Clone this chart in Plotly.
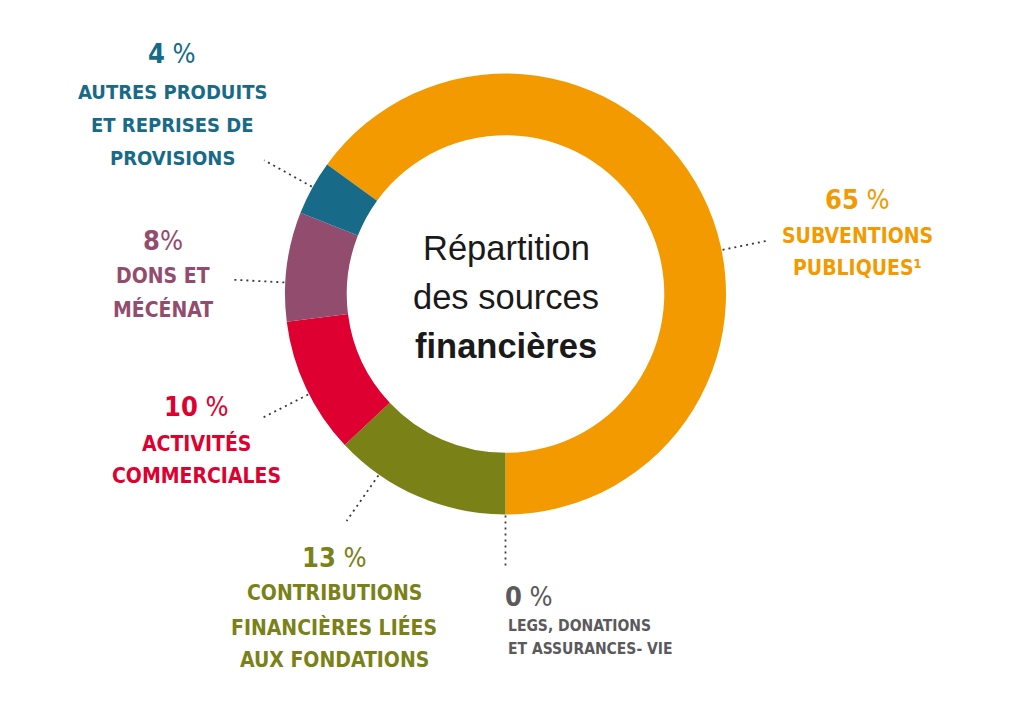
import math
import plotly.graph_objects as go

# ---- data ----
categories = [
    "Subventions publiques",
    "Legs, donations et assurances-vie",
    "Contributions financières liées aux fondations",
    "Activités commerciales",
    "Dons et mécénat",
    "Autres produits et reprises de provisions",
]
values = [65, 0, 13, 10, 8, 4]
colors = ["#F29A00", "#5A5A5C", "#7A8117", "#DE0030", "#924C6E", "#176A88"]

pct_labels = ["65 %", "0 %", "13 %", "10 %", "8%", "4 %"]
label_lines = [
    ["SUBVENTIONS", "PUBLIQUES¹"],
    ["LEGS, DONATIONS", "ET ASSURANCES- VIE"],
    ["CONTRIBUTIONS", "FINANCIÈRES LIÉES", "AUX FONDATIONS"],
    ["ACTIVITÉS", "COMMERCIALES"],
    ["DONS ET", "MÉCÉNAT"],
    ["AUTRES PRODUITS", "ET REPRISES DE", "PROVISIONS"],
]
center_lines = ["Répartition", "des sources", "financières"]

# ---- layout geometry (pixels in the final screenshot) ----
W, H = 1024, 723
OFF = 8  # page body margin
CX, CY, R = 505.5, 294.0, 220.5
HOLE = 0.72

def px(x):
    return (x - OFF) / W

def py(y):
    return 1 - (y - OFF) / H

COND = "DejaVu Sans Condensed, DejaVu Sans, sans-serif"

fig = go.Figure(
    go.Pie(
        labels=categories,
        values=values,
        marker=dict(colors=colors, line=dict(width=0)),
        hole=HOLE,
        sort=False,
        direction="clockwise",
        rotation=-54,
        textinfo="none",
        hoverinfo="label+percent",
        showlegend=False,
        domain=dict(x=[px(CX - R), px(CX + R)], y=[py(CY + R), py(CY - R)]),
    )
)

blocks = [
    dict(x=857, ys=[200, 236, 268], anchor="center", psize=27, lsize=21),
    dict(x=503, ys=[596, 626, 649], anchor="left", psize=27, lsize=15.5, lx=506),
    dict(x=334, ys=[557, 593, 627, 660], anchor="center", psize=27, lsize=21),
    dict(x=196, ys=[406, 443, 476], anchor="center", psize=27, lsize=21),
    dict(x=163, ys=[241, 276, 309], anchor="center", psize=27, lsize=21),
    dict(x=172, ys=[53, 92, 125, 158], anchor="center", psize=27, lsize=20),
]

annotations = []
for i, b in enumerate(blocks):
    num = pct_labels[i].replace("%", "").strip()
    sep = " " if pct_labels[i].endswith(" %") else ""
    pct_text = f"<b>{num}</b>{sep}%"
    annotations.append(dict(
        x=px(b["x"]), y=py(b["ys"][0]), xref="paper", yref="paper",
        text=pct_text, showarrow=False, xanchor=b["anchor"], yanchor="middle",
        font=dict(family=COND, size=b["psize"], color=colors[i]),
    ))
    lx = b.get("lx", b["x"])
    for line, yy in zip(label_lines[i], b["ys"][1:]):
        annotations.append(dict(
            x=px(lx), y=py(yy), xref="paper", yref="paper",
            text=f"<b>{line}</b>", showarrow=False, xanchor=b["anchor"], yanchor="middle",
            font=dict(family=COND, size=b["lsize"], color=colors[i]),
        ))

# center title
center_ys = [248, 297, 346]
for j, (t, yy) in enumerate(zip(center_lines, center_ys)):
    annotations.append(dict(
        x=px(506), y=py(yy), xref="paper", yref="paper",
        text=(f"<b>{t}</b>" if j == 2 else t), showarrow=False,
        xanchor="center", yanchor="middle",
        font=dict(family="Liberation Sans, Arial, sans-serif", size=34.5, color="#1a1a1a"),
    ))

# dotted radial leader lines: angle clockwise from 12 o'clock, from ring edge outward
leader_angles = [78.5, 180, 215, 243, 273, 299]
leader_r1 = [269, 273, 277, 273, 275, 276]
shapes = []
for ang, r1 in zip(leader_angles, leader_r1):
    a = math.radians(ang)
    x0, y0 = CX + (R + 1) * math.sin(a), CY - (R + 1) * math.cos(a)
    x1, y1 = CX + r1 * math.sin(a), CY - r1 * math.cos(a)
    shapes.append(dict(
        type="line", xref="paper", yref="paper",
        x0=px(x0), y0=py(y0), x1=px(x1), y1=py(y1),
        line=dict(color="#3a3a3a", width=1.8, dash="2px,4px"),
    ))

fig.update_layout(
    width=W, height=H,
    margin=dict(l=0, r=0, t=0, b=0),
    paper_bgcolor="white", plot_bgcolor="white",
    annotations=annotations, shapes=shapes,
)

fig.write_html("out.html")
